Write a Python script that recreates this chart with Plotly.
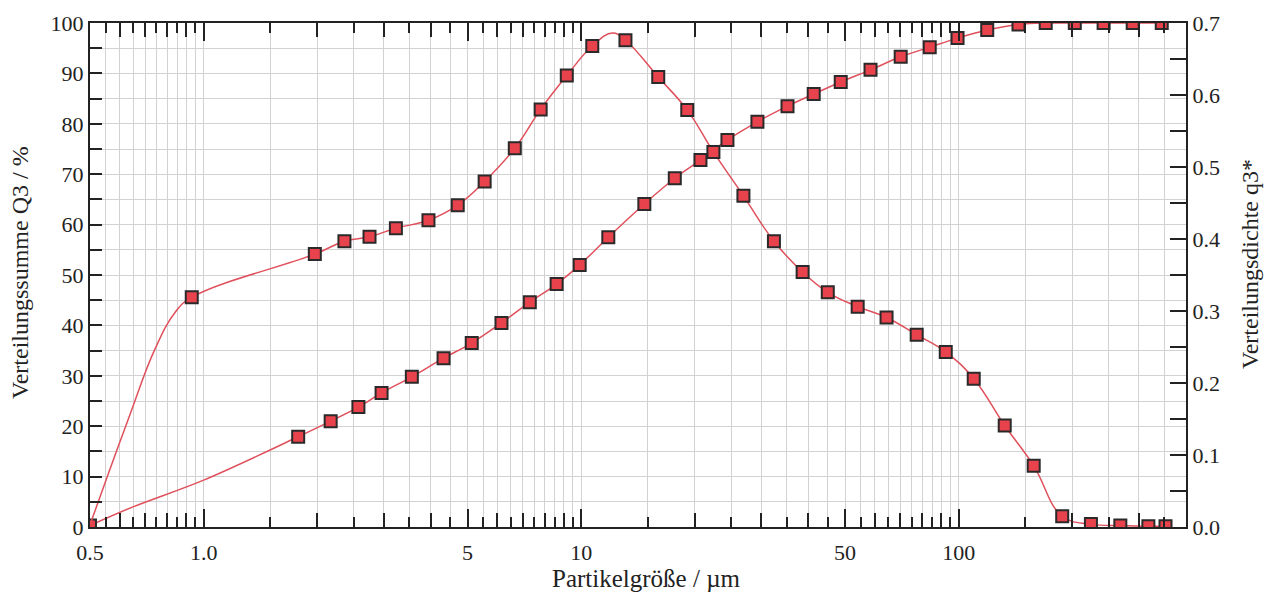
import math
import plotly.graph_objects as go

# ---- data ----
# Cumulative distribution Q3 (%), markers
cum_x = [0.5, 1.78, 2.17, 2.57, 2.96, 3.56, 4.32, 5.13, 6.15, 7.31, 8.61, 9.91,
         11.8, 14.7, 17.7, 20.7, 24.4, 29.3, 35.2, 41.3, 48.7, 58.4, 70.2, 83.8,
         99.3, 119, 144, 170, 203, 242, 289, 345]
cum_y = [0.3, 17.9, 21.0, 23.8, 26.6, 29.8, 33.5, 36.5, 40.5, 44.6, 48.2, 52.0,
         57.5, 64.1, 69.2, 72.8, 76.8, 80.4, 83.5, 85.9, 88.3, 90.7, 93.3, 95.2,
         97.0, 98.6, 99.7, 100, 100, 100, 100, 100]
# extra points of the cumulative curve (line only, no markers)
cum_line_extra_x = [0.65, 1.0]
cum_line_extra_y = [4.0, 9.3]

# Density distribution q3*, markers
dens_x = [0.93, 1.97, 2.36, 2.75, 3.23, 3.94, 4.71, 5.55, 6.67, 7.81, 9.16, 10.7,
          13.1, 16.0, 19.1, 22.4, 26.9, 32.4, 38.6, 45.0, 54.0, 64.4, 77.4, 92.4,
          109.6, 132.4, 158, 188, 224, 268, 318, 353]
dens_y = [0.319, 0.379, 0.397, 0.403, 0.415, 0.426, 0.447, 0.480, 0.526, 0.580,
          0.627, 0.668, 0.676, 0.625, 0.579, 0.521, 0.460, 0.397, 0.354, 0.326,
          0.306, 0.291, 0.267, 0.243, 0.206, 0.141, 0.085, 0.015, 0.004, 0.002,
          0.001, 0.001]
# extra points of the density curve (line only, no markers)
dens_line_extra_x = [0.5, 0.56, 0.64, 0.74, 0.84, 12.1]
dens_line_extra_y = [0.003, 0.075, 0.158, 0.245, 0.298, 0.686]

# ---- axis ticks ----
x_major = [0.5, 1, 5, 10, 50, 100]
x_major_text = ["0.5", "1.0", "5", "10", "50", "100"]
x_medium = [0.6, 0.7, 0.8, 0.9, 2, 3, 4, 6, 7, 8, 9,
            20, 30, 40, 60, 70, 80, 90, 200, 300]
x_short = [0.55, 0.65, 0.75, 0.85, 0.95, 1.5, 2.5, 3.5, 4.5, 5.5, 6.5, 7.5, 8.5, 9.5,
           15, 25, 35, 45, 55, 65, 75, 85, 95, 150, 250, 350]
x_min, x_max = 0.5, 400
y_left_ticks = list(range(0, 101, 10))
y_right_ticks = [0.0, 0.1, 0.2, 0.3, 0.4, 0.5, 0.6, 0.7]

x_title = "Partikelgröße / µm"
y_left_title = "Verteilungssumme Q3 / %"
y_right_title = "Verteilungsdichte q3*"

FONT = "Liberation Serif, Times New Roman, serif"
INK = "#222222"
GRID = "#d2d2d2"
LINE_RED = "#e0505c"
MARK_RED = "#e8434c"


def merged(xs, ys, ex, ey):
    pts = sorted(zip(list(xs) + list(ex), list(ys) + list(ey)))
    return [p[0] for p in pts], [p[1] for p in pts]


cl_x, cl_y = merged(cum_x, cum_y, cum_line_extra_x, cum_line_extra_y)
dl_x, dl_y = merged(dens_x, dens_y, dens_line_extra_x, dens_line_extra_y)

marker = dict(symbol="square", size=12, color=MARK_RED,
              line=dict(color="#2a2a2a", width=2))

fig = go.Figure()
fig.add_trace(go.Scatter(x=cl_x, y=cl_y, mode="lines",
                         line=dict(color=LINE_RED, width=1.5, shape="spline", smoothing=1.0),
                         xaxis="x", yaxis="y", showlegend=False, hoverinfo="skip"))
fig.add_trace(go.Scatter(x=cum_x, y=cum_y, mode="markers", marker=marker,
                         xaxis="x", yaxis="y", showlegend=False, name="Q3"))
fig.add_trace(go.Scatter(x=dl_x, y=dl_y, mode="lines",
                         line=dict(color=LINE_RED, width=1.5, shape="spline", smoothing=1.2),
                         xaxis="x2", yaxis="y2", showlegend=False, hoverinfo="skip"))
fig.add_trace(go.Scatter(x=dens_x, y=dens_y, mode="markers", marker=marker,
                         xaxis="x2", yaxis="y2", showlegend=False, name="q3*"))

xr = [math.log10(x_min), math.log10(x_max)]
tickfont = dict(family=FONT, size=22, color=INK)
titlefont = dict(family=FONT, size=24, color=INK)

W, H = 1267, 595
ML, MR, MT, MB = 90, 81, 23, 68
pw, ph = W - ML - MR, H - MT - MB


def px_to_paper_x(px):
    return (px - ML) / pw


def px_to_paper_y(py):
    return (H - MB - py) / ph


fig.update_layout(
    width=W, height=H,
    margin=dict(l=ML, r=MR, t=MT, b=MB),
    paper_bgcolor="white", plot_bgcolor="white",
    font=tickfont,
    xaxis=dict(
        type="log", range=xr, automargin=False,
        tickmode="array", tickvals=x_major, ticktext=x_major_text,
        ticks="inside", ticklen=18, tickwidth=2, tickcolor=INK,
        showline=True, linecolor=INK, linewidth=2, mirror="ticks",
        showgrid=True, gridcolor=GRID, gridwidth=1,
        minor=dict(tickmode="array", tickvals=x_medium, ticks="inside", ticklen=14,
                   tickwidth=2, tickcolor=INK, showgrid=True, gridcolor=GRID, gridwidth=1),
        tickfont=tickfont, ticklabelstandoff=5,
        zeroline=False,
    ),
    xaxis2=dict(
        type="log", range=xr, overlaying="x", anchor="y2", automargin=False,
        tickmode="array", tickvals=x_short, showticklabels=False,
        ticks="inside", ticklen=10, tickwidth=2, tickcolor=INK,
        showline=False, mirror="ticks",
        showgrid=True, gridcolor=GRID, gridwidth=1, zeroline=False,
    ),
    yaxis=dict(
        range=[0, 100], tickmode="array", tickvals=y_left_ticks, automargin=False,
        ticks="inside", ticklen=12, tickwidth=2, tickcolor=INK,
        showline=True, linecolor=INK, linewidth=2,
        showgrid=True, gridcolor=GRID, gridwidth=1, zeroline=False,
        minor=dict(dtick=5, ticks="inside", ticklen=12, tickwidth=2, tickcolor=INK,
                   showgrid=True, gridcolor=GRID, gridwidth=1),
        tickfont=tickfont,
    ),
    yaxis2=dict(
        range=[0, 0.7], overlaying="y", side="right", anchor="x2", automargin=False,
        tickmode="array", tickvals=y_right_ticks, tickformat=".1f",
        ticks="inside", ticklen=16, tickwidth=2, tickcolor=INK,
        showline=True, linecolor=INK, linewidth=2,
        showgrid=False, zeroline=False,
        minor=dict(dtick=0.05, ticks="inside", ticklen=16, tickwidth=2, tickcolor=INK,
                   showgrid=False),
        tickfont=tickfont,
    ),
    annotations=[
        dict(text=x_title, xref="paper", yref="paper",
             x=px_to_paper_x(646), y=px_to_paper_y(578),
             xanchor="center", yanchor="middle", showarrow=False,
             font=dict(family=FONT, size=25, color=INK)),
        dict(text=y_left_title, xref="paper", yref="paper",
             x=px_to_paper_x(20), y=px_to_paper_y(273),
             xanchor="center", yanchor="middle", showarrow=False, textangle=-90,
             font=titlefont),
        dict(text=y_right_title, xref="paper", yref="paper",
             x=px_to_paper_x(1250), y=px_to_paper_y(264),
             xanchor="center", yanchor="middle", showarrow=False, textangle=-90,
             font=titlefont),
    ],
)

fig.write_html("out.html", config={"displayModeBar": False},
               post_script="document.body.style.margin='0px';")
